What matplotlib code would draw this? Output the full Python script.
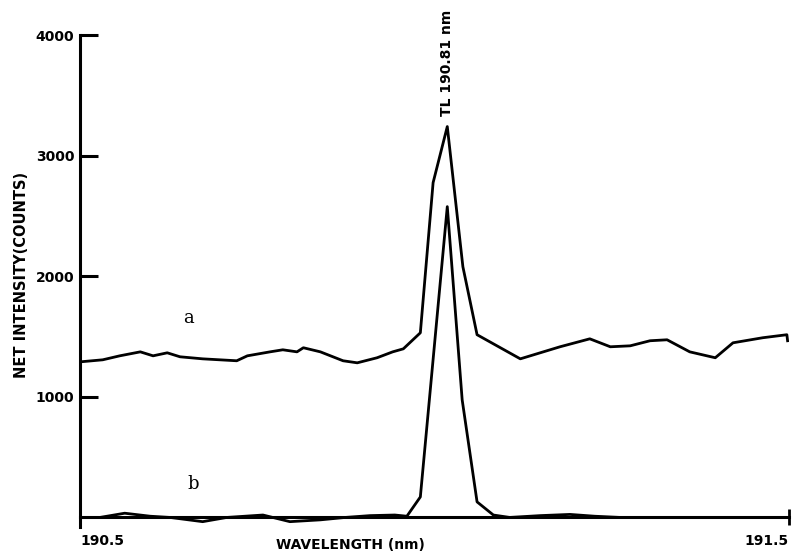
import matplotlib
matplotlib.use("Agg")
import matplotlib.pyplot as plt

# ── Spectrum traces (wavelength in nm, net intensity in counts) ──────────
wl_a = [190.500, 190.532, 190.556, 190.585, 190.603, 190.623, 190.641,
        190.673, 190.721, 190.736, 190.768, 190.786, 190.806, 190.815,
        190.839, 190.871, 190.891, 190.919, 190.941, 190.956, 190.980,
        190.998, 191.018, 191.040, 191.060, 191.121, 191.177, 191.219,
        191.248, 191.276, 191.304, 191.328, 191.360, 191.396, 191.421,
        191.463, 191.497, 191.498]
counts_a = [1290, 1307, 1340, 1373, 1340, 1365, 1332,
            1315, 1299, 1340, 1373, 1390, 1373, 1407,
            1373, 1299, 1282, 1324, 1373, 1398, 1531,
            2776, 3241, 2079, 1515, 1315, 1415, 1481,
            1415, 1423, 1465, 1473, 1373, 1324, 1448,
            1490, 1515, 1465]

wl_b = [190.500, 190.528, 190.563, 190.599, 190.627, 190.673, 190.707,
        190.758, 190.796, 190.839, 190.874, 190.909, 190.944, 190.961,
        190.980, 191.018, 191.039, 191.060, 191.083, 191.106, 191.149,
        191.191, 191.226, 191.262, 191.500]
counts_b = [0, 0, 35, 10, 0, -35, 0,
            20, -35, -20, 0, 15, 20, 10,
            170, 2577, 975, 129, 20, 0, 15,
            25, 10, 0, 0]

y_ticks = [1000, 2000, 3000, 4000]
x_ticks = [190.5, 191.5]
x_labels = ["190.5", "191.5"]

fig = plt.figure(figsize=(8.02, 5.55), dpi=100)
ax = fig.add_axes([0.0998, 0.0503, 0.884, 0.8866])

ax.plot(wl_a, counts_a, color="black", lw=2.0, solid_joinstyle="round")
ax.plot(wl_b, counts_b, color="black", lw=2.0, solid_joinstyle="round")

ax.set_xlim(190.5, 191.5)
ax.set_ylim(-80, 4000)

for s in ["top", "right"]:
    ax.spines[s].set_visible(False)
ax.spines["bottom"].set_position(("data", 0))
ax.spines["left"].set_linewidth(2.2)
ax.spines["bottom"].set_linewidth(2.2)

ax.set_yticks(y_ticks)
ax.set_yticklabels([str(v) for v in y_ticks], fontweight="bold", fontsize=10)
ax.tick_params(axis="y", direction="in", length=13, width=2.2, pad=4)

ax.set_xticks(x_ticks)
ax.set_xticklabels(x_labels, fontweight="bold", fontsize=10)
ax.tick_params(axis="x", direction="inout", length=12, width=2.0, pad=6)
tl = ax.get_xticklabels()
tl[0].set_ha("left")
tl[1].set_ha("right")

ax.text(190.882, -225, "WAVELENGTH (nm)", ha="center", va="center",
        fontsize=10, fontweight="bold")
fig.text(0.027, 0.505, "NET INTENSITY(COUNTS)", rotation=90, ha="center",
         va="center", fontsize=10.5, fontweight="bold")

ax.text(191.018, 3330, "TL 190.81 nm", rotation=90, ha="center",
        va="bottom", fontsize=10, fontweight="bold")

ax.text(190.653, 1650, "a", fontsize=13, family="DejaVu Serif",
        ha="center", va="center")
ax.text(190.660, 280, "b", fontsize=13, family="DejaVu Serif",
        ha="center", va="center")

fig.savefig("out.png", dpi=100)
